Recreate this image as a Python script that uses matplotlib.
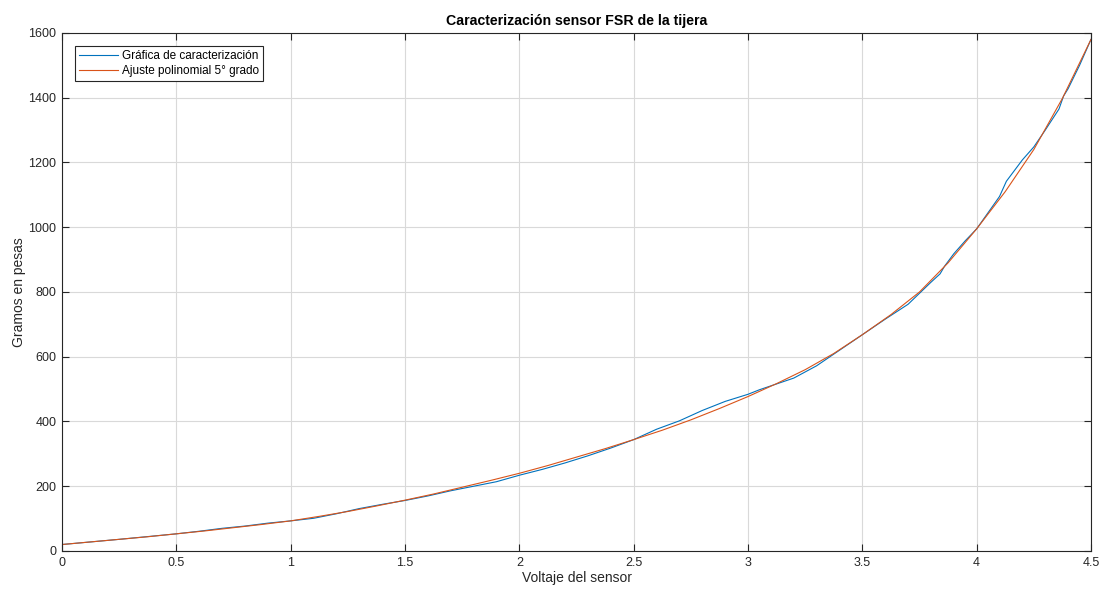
import matplotlib
matplotlib.use("Agg")
import matplotlib.pyplot as plt

plt.rcParams['font.family'] = ['Liberation Sans', 'DejaVu Sans']

# Measured characterization curve
volt_data = [0.0, 0.25, 0.5, 0.6, 0.7, 0.8, 0.9, 1.0, 1.1, 1.2, 1.3, 1.4, 1.5, 1.6,
             1.7, 1.8, 1.9, 2.0, 2.1, 2.2, 2.3, 2.4, 2.5, 2.6, 2.7, 2.8, 2.9, 3.0,
             3.05, 3.1, 3.2, 3.3, 3.4, 3.5, 3.6, 3.7, 3.8, 3.84, 3.86, 3.9, 3.93,
             3.95, 4.0, 4.1, 4.13, 4.2, 4.25, 4.3, 4.36, 4.38, 4.4, 4.45, 4.5]
grams_data = [20, 36, 53, 61, 70, 77, 86, 93, 101, 115, 131, 144, 156, 170,
              186, 200, 214, 234, 252, 272, 294, 318, 344, 376, 402, 434, 462, 484,
              498, 510, 534, 572, 620, 668, 716, 762, 830, 856, 880, 918, 942,
              958, 995, 1095, 1142, 1208, 1248, 1300, 1365, 1405, 1428, 1500, 1580]

# 5th degree polynomial fit
volt_fit = [0.0, 0.125, 0.25, 0.375, 0.5, 0.625, 0.75, 0.875, 1.0, 1.125, 1.25, 1.375,
            1.5, 1.625, 1.75, 1.875, 2.0, 2.125, 2.25, 2.375, 2.5, 2.625, 2.75, 2.875,
            3.0, 3.125, 3.25, 3.375, 3.5, 3.625, 3.75, 3.875, 4.0, 4.125, 4.25, 4.375, 4.5]
grams_fit = [20, 28, 36, 44, 53, 62, 72, 82, 93, 107, 122, 139,
             157, 176, 197, 218, 240, 264, 290, 316, 344, 373, 405, 440,
             477, 517, 560, 610, 668, 730, 800, 890, 995, 1110, 1240, 1398, 1580]

title = "Caracterización sensor FSR de la tijera"
xlabel = "Voltaje del sensor"
ylabel = "Gramos en pesas"
labels = ["Gráfica de caracterización", "Ajuste polinomial 5° grado"]
xticks = [0, 0.5, 1, 1.5, 2, 2.5, 3, 3.5, 4, 4.5]
yticks = [0, 200, 400, 600, 800, 1000, 1200, 1400, 1600]

fig = plt.figure(figsize=(11, 5.91), dpi=100)
ax = fig.add_axes([0.0564, 0.0677, 0.9354, 0.8765])

ax.plot(volt_data, grams_data, color='#0072BD', lw=0.8, label=labels[0])
ax.plot(volt_fit, grams_fit, color='#D95319', lw=0.8, label=labels[1])

ax.set_xlim(0, 4.5)
ax.set_ylim(0, 1600)
ax.set_xticks(xticks)
ax.set_xticklabels(['0', '0.5', '1', '1.5', '2', '2.5', '3', '3.5', '4', '4.5'])
ax.set_yticks(yticks)
ax.grid(True, color='#d9d9d9', lw=0.8)
ax.set_axisbelow(True)
ax.tick_params(direction='in', length=5, width=0.8, top=True, right=True,
               labelsize=9, colors='#262626', pad=4)
for s in ax.spines.values():
    s.set_color('#262626')
    s.set_linewidth(0.8)

ax.set_title(title, fontsize=10.2, fontweight='bold', color='#000000', pad=6)
ax.set_xlabel(xlabel, fontsize=10, color='#262626', labelpad=2)
ax.set_ylabel(ylabel, fontsize=10, color='#262626', labelpad=2)

leg = ax.legend(loc='upper left', fontsize=8.5, frameon=True, fancybox=False,
                edgecolor='#262626', framealpha=1, borderaxespad=1.1,
                handlelength=3.3, handletextpad=0.3, borderpad=0.35, labelspacing=0.25)
leg.get_frame().set_linewidth(0.8)

fig.savefig("out.png", dpi=100)
